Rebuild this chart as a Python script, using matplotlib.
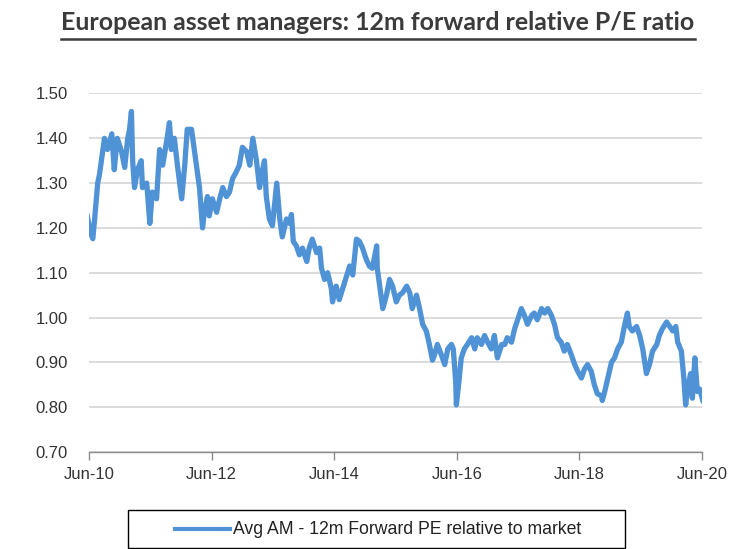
import matplotlib
matplotlib.use("Agg")
import matplotlib.pyplot as plt
from matplotlib.lines import Line2D
from matplotlib.patches import Rectangle

# 12m forward P/E of European asset managers relative to the market
years = [
    2010.39, 2010.44, 2010.48, 2010.51, 2010.56, 2010.59, 2010.62, 2010.67, 2010.72, 2010.79,
    2010.83, 2010.88, 2010.95, 2011.00, 2011.05, 2011.08, 2011.11, 2011.13, 2011.16, 2011.21,
    2011.27, 2011.29, 2011.36, 2011.41, 2011.45, 2011.52, 2011.57, 2011.62, 2011.68, 2011.73,
    2011.76, 2011.81, 2011.86, 2011.93, 2011.98, 2012.02, 2012.09, 2012.11, 2012.17, 2012.22,
    2012.27, 2012.30, 2012.35, 2012.38, 2012.43, 2012.50, 2012.55, 2012.60, 2012.66, 2012.71,
    2012.76, 2012.82, 2012.87, 2012.92, 2012.99, 2013.04, 2013.09, 2013.15, 2013.20, 2013.25,
    2013.28, 2013.31, 2013.36, 2013.41, 2013.48, 2013.53, 2013.57, 2013.64, 2013.69, 2013.72,
    2013.75, 2013.80, 2013.85, 2013.90, 2013.97, 2014.01, 2014.06, 2014.13, 2014.18, 2014.21,
    2014.26, 2014.31, 2014.37, 2014.39, 2014.45, 2014.50, 2014.59, 2014.67, 2014.72, 2014.78,
    2014.83, 2014.88, 2014.94, 2014.99, 2015.04, 2015.11, 2015.12, 2015.16, 2015.21, 2015.27,
    2015.32, 2015.37, 2015.43, 2015.48, 2015.53, 2015.60, 2015.65, 2015.69, 2015.76, 2015.81,
    2015.86, 2015.92, 2015.97, 2016.02, 2016.05, 2016.10, 2016.17, 2016.22, 2016.27, 2016.33,
    2016.36, 2016.40, 2016.41, 2016.45, 2016.49, 2016.54, 2016.59, 2016.66, 2016.71, 2016.75,
    2016.82, 2016.87, 2016.92, 2016.98, 2017.03, 2017.08, 2017.15, 2017.20, 2017.24, 2017.31,
    2017.36, 2017.41, 2017.47, 2017.52, 2017.57, 2017.64, 2017.68, 2017.73, 2017.80, 2017.85,
    2017.90, 2017.96, 2018.01, 2018.06, 2018.12, 2018.17, 2018.22, 2018.29, 2018.34, 2018.39,
    2018.45, 2018.50, 2018.55, 2018.61, 2018.66, 2018.71, 2018.78, 2018.79, 2018.83, 2018.88,
    2018.94, 2018.99, 2019.04, 2019.10, 2019.15, 2019.20, 2019.23, 2019.28, 2019.35, 2019.40,
    2019.45, 2019.51, 2019.56, 2019.61, 2019.68, 2019.72, 2019.77, 2019.84, 2019.89, 2019.94,
    2019.99, 2020.02, 2020.08, 2020.12, 2020.15, 2020.18, 2020.23, 2020.26, 2020.30, 2020.34,
    2020.38, 2020.43,
]
rel_pe = [
    1.227, 1.19, 1.176, 1.22, 1.30, 1.32, 1.35, 1.40, 1.375, 1.41,
    1.33, 1.40, 1.37, 1.335, 1.40, 1.42, 1.46, 1.35, 1.29, 1.33,
    1.35, 1.29, 1.30, 1.21, 1.28, 1.265, 1.375, 1.34, 1.39, 1.435,
    1.375, 1.40, 1.34, 1.265, 1.34, 1.42, 1.42, 1.40, 1.34, 1.29,
    1.20, 1.235, 1.27, 1.227, 1.265, 1.235, 1.265, 1.29, 1.27, 1.28,
    1.31, 1.325, 1.34, 1.38, 1.37, 1.34, 1.40, 1.35, 1.29, 1.33,
    1.35, 1.27, 1.22, 1.205, 1.30, 1.22, 1.18, 1.22, 1.21, 1.23,
    1.17, 1.16, 1.14, 1.155, 1.125, 1.155, 1.175, 1.145, 1.155, 1.11,
    1.085, 1.10, 1.065, 1.035, 1.07, 1.04, 1.08, 1.115, 1.095, 1.175,
    1.17, 1.155, 1.13, 1.115, 1.11, 1.16, 1.11, 1.07, 1.02, 1.05,
    1.085, 1.07, 1.035, 1.05, 1.055, 1.07, 1.055, 1.02, 1.05, 1.02,
    0.985, 0.97, 0.94, 0.905, 0.915, 0.94, 0.915, 0.895, 0.93, 0.94,
    0.93, 0.855, 0.805, 0.855, 0.91, 0.93, 0.94, 0.955, 0.93, 0.955,
    0.94, 0.96, 0.945, 0.93, 0.96, 0.91, 0.94, 0.94, 0.955, 0.945,
    0.975, 0.995, 1.02, 1.005, 0.985, 1.005, 1.01, 0.995, 1.02, 1.01,
    1.02, 1.005, 0.985, 0.955, 0.945, 0.925, 0.94, 0.915, 0.895, 0.88,
    0.865, 0.885, 0.895, 0.88, 0.85, 0.83, 0.825, 0.815, 0.835, 0.865,
    0.90, 0.91, 0.93, 0.945, 0.98, 1.01, 0.98, 0.97, 0.98, 0.96,
    0.93, 0.875, 0.895, 0.925, 0.94, 0.96, 0.975, 0.99, 0.98, 0.97,
    0.98, 0.945, 0.925, 0.865, 0.805, 0.84, 0.875, 0.82, 0.91, 0.835,
    0.84, 0.815,
]

tick_years = [2010.417, 2012.417, 2014.417, 2016.417, 2018.417, 2020.417]
tick_labels = ["Jun-10", "Jun-12", "Jun-14", "Jun-16", "Jun-18", "Jun-20"]
y_ticks = [0.70, 0.80, 0.90, 1.00, 1.10, 1.20, 1.30, 1.40, 1.50]

title = "European asset managers: 12m forward relative P/E ratio"
series_name = "Avg AM - 12m Forward PE relative to market"

blue = "#4F93D6"
axis_font = ["Liberation Sans", "DejaVu Sans"]

fig = plt.figure(figsize=(7.29, 5.49), dpi=100)
ax = fig.add_axes([0.122, 0.1767, 0.841, 0.653])

ax.plot(years, rel_pe, color=blue, lw=3.8, solid_joinstyle="round")

ax.set_xlim(tick_years[0], tick_years[-1])
ax.set_ylim(0.70, 1.50)
ax.set_yticks(y_ticks)
ax.set_yticklabels([f"{v:.2f}" for v in y_ticks], family=axis_font, fontsize=12)
ax.set_xticks(tick_years)
ax.set_xticklabels(tick_labels, family=axis_font, fontsize=12)

ax.grid(axis="y", color="#d9d9d9", lw=1.3)
ax.set_axisbelow(True)
for side in ["top", "right", "left"]:
    ax.spines[side].set_visible(False)
ax.spines["bottom"].set_color("#8c8c8c")
ax.spines["bottom"].set_linewidth(1.0)
ax.tick_params(axis="y", length=0, pad=15, colors="#333333")
ax.tick_params(axis="x", length=6, width=1.0, color="#8c8c8c", pad=5, labelcolor="#333333")

# underlined bold title
t = fig.text(378 / 729, 1 - 22 / 549, title, ha="center", va="center",
             fontsize=17.9, fontweight="bold", family=["Lato", "DejaVu Sans"], color="#3b3b3b")
fig.canvas.draw()
bb = t.get_window_extent()
W, H = fig.bbox.width, fig.bbox.height
fig.add_artist(Line2D([bb.x0 / W, bb.x1 / W], [(bb.y0 - 5) / H] * 2,
                      transform=fig.transFigure, color="#3b3b3b", lw=1.8))

# legend box under the chart
fig.add_artist(Rectangle((128 / 729, 1 - 548 / 549), (625 - 128) / 729, 38 / 549,
                         transform=fig.transFigure, fill=False, edgecolor="black", lw=1.0))
fig.add_artist(Line2D([175 / 729, 230 / 729], [1 - 529 / 549] * 2,
                      transform=fig.transFigure, color=blue, lw=3.0))
fig.text(233 / 729, 1 - 529 / 549, series_name, ha="left", va="center",
         fontsize=12.7, family=axis_font, color="#222222")

fig.savefig("out.png", dpi=100)
